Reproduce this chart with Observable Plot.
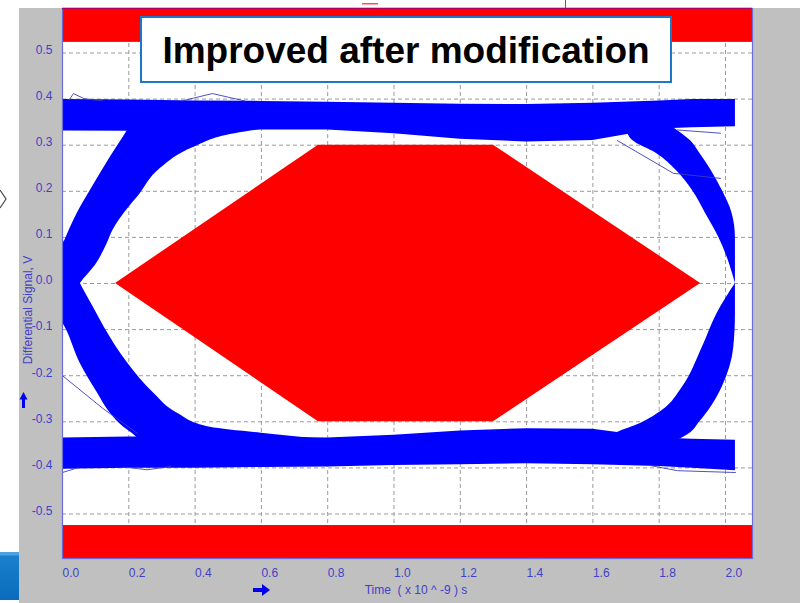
<!DOCTYPE html>
<html>
<head>
<meta charset="utf-8">
<script src="https://cdn.jsdelivr.net/npm/d3@7"></script>
<script src="https://cdn.jsdelivr.net/npm/@observablehq/plot@0.6"></script>
<style>
  html, body { margin: 0; padding: 0; background: #ffffff; }
  #wrap { position: relative; width: 800px; height: 603px; overflow: hidden; font-family: "Liberation Sans", Arial, sans-serif; }
  #graybg { position: absolute; left: 19px; top: 8px; width: 781px; height: 595px; background: #c0c0c0; }
  #chart { position: absolute; left: 0; top: 0; z-index: 1; }
  #titlebox { position: absolute; left: 140px; top: 16px; width: 532px; height: 67px; box-sizing: border-box;
    border: 2px solid #1e78c8; background: #ffffff; z-index: 3; display: flex; align-items: center; justify-content: center;
    font-weight: bold; font-size: 37px; color: #000; padding-top: 2px; }
  .axt { position: absolute; z-index: 2; color: #4040c8; font-size: 12px; white-space: pre; text-align: center; line-height: 14px; }
  #ytitle { left: -72px; top: 303px; width: 200px; height: 14px; transform: rotate(-90deg); }
  #xtitle { left: 316px; top: 583px; width: 200px; height: 14px; }
  #deco { position: absolute; left: 0; top: 0; z-index: 2; pointer-events: none; }
  #bluebar { position: absolute; left: 0; top: 552px; width: 19px; height: 48px; z-index: 2;
    background: linear-gradient(#4aa3e0 0px, #4aa3e0 3px, #1a80cc 4px, #0a6cbc 100%); }
</style>
</head>
<body>
<div id="wrap">
  <div id="graybg"></div>
  <div id="chart"></div>
  <div id="titlebox">Improved after modification</div>
  <div class="axt" id="ytitle">Differential Signal, V</div>
  <div class="axt" id="xtitle">Time  ( x 10 ^ -9 ) s</div>
  <div id="bluebar"></div>
  <svg id="deco" width="800" height="603">
    <polyline points="0,190 6,199 0,208" fill="none" stroke="#444" stroke-width="1.2"/>
    <rect x="362" y="3" width="16" height="1.5" fill="#ff5050"/>
    <rect x="565" y="0" width="1" height="8" fill="#5050e0"/>
    <polygon points="23.5,392 19.5,399.5 27.5,399.5" fill="#0000ee"/>
    <rect x="22" y="399" width="3" height="9" fill="#0000ee"/>
    <rect x="253" y="588" width="10" height="4" fill="#0000ee"/>
    <polygon points="262,584 270,590 262,596" fill="#0000ee"/>
  </svg>
</div>
<script>
// ---------- axis ticks ----------
const xTicks = [0.0, 0.2, 0.4, 0.6, 0.8, 1.0, 1.2, 1.4, 1.6, 1.8, 2.0];
const yTicks = [-0.5, -0.4, -0.3, -0.2, -0.1, 0.0, 0.1, 0.2, 0.3, 0.4, 0.5];

// ---------- red mask (limits, V) ----------
const maskTopV = [0.523, 0.5965];
const maskBottomV = [-0.5965, -0.525];
// hexagon eye mask
const hexT = [0.16, 0.772, 1.30, 1.925];
const hexLow = [0, -0.3, -0.3, 0];
const hexHigh = [0, 0.3, 0.3, 0];

// ---------- eye diagram: rails (envelopes) ----------
const railT      = [0, 0.2, 0.4, 0.6, 0.8, 1.0, 1.2, 1.4, 1.6, 1.8, 1.9, 2.03];
const topRailHi  = [0.399, 0.398, 0.396, 0.395, 0.393, 0.391, 0.389, 0.388, 0.391, 0.396, 0.399, 0.399];
const topRailLo  = [0.331, 0.330, 0.331, 0.333, 0.333, 0.325, 0.313, 0.307, 0.310, 0.335, 0.338, 0.340];
const botRailHi  = [-0.335, -0.333, -0.333, -0.333, -0.335, -0.329, -0.320, -0.315, -0.316, -0.335, -0.338, -0.340];
const botRailLo  = [-0.403, -0.401, -0.401, -0.399, -0.398, -0.395, -0.393, -0.391, -0.393, -0.397, -0.401, -0.406];

// ---------- transitions (time span of the band at each voltage) ----------
// left rising
const lrV  = [-0.1, 0, 0.04, 0.087, 0.115, 0.165, 0.187, 0.25, 0.295, 0.325, 0.336];
const lrT1 = [-0.12, -0.07, -0.03, 0.003, 0.02, 0.054, 0.072, 0.124, 0.163, 0.19, 0.2];
const lrT2 = [0.0, 0.054, 0.1, 0.135, 0.152, 0.2, 0.226, 0.296, 0.395, 0.52, 0.62];
// left falling
const lfV  = [0.1, 0.0, -0.05, -0.095, -0.174, -0.239, -0.282, -0.312, -0.325, -0.338];
const lfT1 = [-0.12, -0.07, -0.03, 0.008, 0.054, 0.107, 0.145, 0.185, 0.21, 0.23];
const lfT2 = [0.0, 0.054, 0.092, 0.126, 0.198, 0.277, 0.348, 0.446, 0.6, 0.78];
// right falling
const rfV  = [0.0, 0.043, 0.1, 0.152, 0.202, 0.245, 0.282, 0.31, 0.338];
const rfT1 = [2.03, 2.012, 1.98, 1.94, 1.9, 1.852, 1.792, 1.72, 1.70];
const rfT2 = [2.03, 2.03, 2.03, 2.02, 1.99, 1.957, 1.923, 1.894, 1.843];
// right rising
const rrV  = [0.0, -0.066, -0.139, -0.225, -0.275, -0.304, -0.323, -0.34];
const rrT1 = [2.03, 1.974, 1.93, 1.87, 1.81, 1.742, 1.674, 1.64];
const rrT2 = [2.03, 2.03, 2.025, 1.99, 1.95, 1.918, 1.896, 1.855];

// ---------- stray traces ----------
const strayId = ["a","a","a","a", "b","b","b", "c","c","c", "d","d","d", "e","e", "f","f","f", "g","g","g", "h","h"];
const strayT  = [0.02, 0.033, 0.065, 0.12,  0.36, 0.452, 0.55,  0.0, 0.12, 0.226,  1.674, 1.843, 1.985,  1.855, 1.985,  1.774, 1.855, 2.03,  0.196, 0.256, 0.326,  0.0, 0.045];
const strayV  = [0.398, 0.412, 0.401, 0.396,  0.396, 0.412, 0.396,  -0.2, -0.27, -0.325,  0.31, 0.239, 0.228,  0.333, 0.326,  -0.395, -0.406, -0.41,  -0.399, -0.404, -0.397,  -0.41, -0.4];

// ---------- build tables ----------
const xDomain = [0, 2.0815];
const yDomain = [-0.5965, 0.5965];
const zip = (a, b, c, keys) => a.map((d, i) => ({[keys[0]]: d, [keys[1]]: b[i], [keys[2]]: c[i]}));
const masks = [{lo: maskTopV[0], hi: maskTopV[1]}, {lo: maskBottomV[0], hi: maskBottomV[1]}];
const hex = zip(hexT, hexLow, hexHigh, ["t", "lo", "hi"]);
const topRail = zip(railT, topRailLo, topRailHi, ["t", "lo", "hi"]);
const botRail = zip(railT, botRailLo, botRailHi, ["t", "lo", "hi"]);
const lr = zip(lrV, lrT1, lrT2, ["v", "t1", "t2"]);
const lf = zip(lfV, lfT1, lfT2, ["v", "t1", "t2"]);
const rf = zip(rfV, rfT1, rfT2, ["v", "t1", "t2"]);
const rr = zip(rrV, rrT1, rrT2, ["v", "t1", "t2"]);
const strays = strayId.map((id, i) => ({id, t: strayT[i], v: strayV[i]}));

const BLUE = "#0000ff", RED = "#ff0000";
const railOpts = {x: "t", y1: "lo", y2: "hi", fill: BLUE, curve: "linear", clip: true};
const bandOpts = {y: "v", x1: "t1", x2: "t2", fill: BLUE, curve: "monotone-y", clip: true};

const chart = Plot.plot({
  width: 800,
  height: 603,
  marginLeft: 62,
  marginRight: 48,
  marginTop: 8,
  marginBottom: 45,
  style: {background: "transparent", fontFamily: "'Liberation Sans', Arial, sans-serif", fontSize: "12px", color: "#4040c8"},
  x: {domain: xDomain, ticks: xTicks, tickFormat: d => d.toFixed(1), tickSize: 0, tickPadding: 10, label: null},
  y: {domain: yDomain, ticks: yTicks, tickFormat: d => d.toFixed(1), tickSize: 0, tickPadding: 10, label: null},
  marks: [
    Plot.frame({fill: "#ffffff"}),
    Plot.ruleX(xTicks.filter(d => d > 0), {stroke: "#9a9a9a", strokeDasharray: "4,3", strokeWidth: 1}),
    Plot.ruleY(yTicks, {stroke: "#9a9a9a", strokeDasharray: "4,3", strokeWidth: 1}),
    Plot.rect(masks, {x1: xDomain[0], x2: xDomain[1], y1: "lo", y2: "hi", fill: RED}),
    Plot.areaY(hex, {x: "t", y1: "lo", y2: "hi", fill: RED, curve: "linear"}),
    Plot.areaY(topRail, railOpts),
    Plot.areaY(botRail, railOpts),
    Plot.areaX(lr, bandOpts),
    Plot.areaX(lf, bandOpts),
    Plot.areaX(rf, bandOpts),
    Plot.areaX(rr, bandOpts),
    Plot.line(strays, {x: "t", y: "v", z: "id", stroke: "#3c3cc0", strokeWidth: 0.9, clip: true}),
    Plot.frame({stroke: "#6b6bd6", strokeWidth: 1.2}),
    Plot.ruleY([yDomain[1]], {stroke: "#b00060", strokeWidth: 1.5})
  ]
});
document.getElementById("chart").appendChild(chart);

// tick label placement: x labels start at the gridline, y labels sit slightly above it
chart.querySelectorAll('[aria-label^="x-axis"] text').forEach(t => t.setAttribute("text-anchor", "start"));
chart.querySelectorAll('[aria-label^="y-axis"] text').forEach(t => {
  const tr = t.getAttribute("transform");
  t.setAttribute("transform", (tr ? tr + " " : "") + "translate(0,-3)");
});
</script>
</body>
</html>
